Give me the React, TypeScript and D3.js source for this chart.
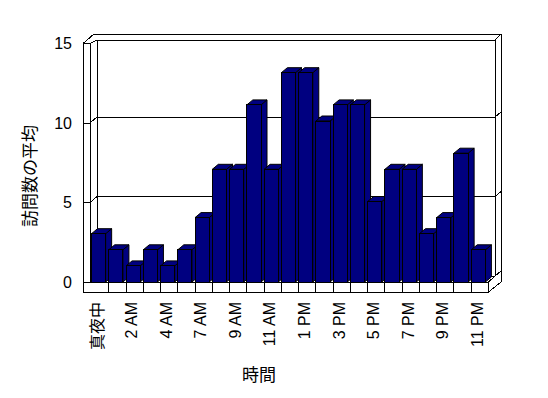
import React from "react";
import * as d3 from "d3";

// hours shown on the category axis (one hour, 5 AM, is missing in the source data)
const hours = [
  "真夜中", "1 AM", "2 AM", "3 AM", "4 AM", "5 AM", "7 AM", "8 AM", "9 AM", "10 AM",
  "11 AM", "12 PM", "1 PM", "2 PM", "3 PM", "4 PM", "5 PM", "6 PM", "7 PM", "8 PM",
  "9 PM", "10 PM", "11 PM",
];
const visits = [3, 2, 1, 2, 1, 2, 4, 7, 7, 11, 7, 13, 13, 10, 11, 11, 5, 7, 7, 3, 4, 8, 2];
const yTicks = [0, 5, 10, 15];
const gridValues = [5, 10];
const yTitle = "訪問数の平均";
const xTitle = "時間";

const W = 548;
const H = 398;
const FONT = "'Liberation Sans', 'Noto Sans CJK JP', sans-serif";
const CJK = "'Noto Sans CJK JP', sans-serif";

export default function App() {
  const x = d3.scaleBand<string>().domain(hours).range([91.5, 488.5]);
  // front face of the box (axis ticks) and the plane the bars stand in
  const yAxis = d3.scaleLinear().domain([0, 15]).range([282, 43.5]);
  const yBar = d3.scaleLinear().domain([0, 15]).range([282, 40.5]);

  const bw = x.bandwidth();
  const barW = bw * 0.82;
  const bdx = 6; // bar depth
  const bdy = -5;
  const gdx = 7; // floor / side wall depth
  const gdy = -6;

  const wallL = 83;
  const wallIn = 90;
  const backL = wallIn + gdx;
  const backR = 495;
  const outerR = 501;
  const base = yAxis(0);
  const floorBottom = base + 10;
  const floorR = x.range()[1];
  const topIn = 40;
  const topOut = 34;
  const wallTop = yAxis(15);

  const line = d3.line();
  const stroke = { stroke: "#000", strokeWidth: 1, fill: "none" };

  return (
    <div style={{ position: "absolute", left: 0, top: 0 }}>
      <svg width={W} height={H} style={{ display: "block", background: "#fff" }}>
        <g shapeRendering="crispEdges">
          {/* box outline */}
          <path
            d={
              line([
                [wallL, floorBottom],
                [wallL, wallTop],
                [wallL + 11, topOut],
                [outerR, topOut],
                [outerR, base],
                [floorR, floorBottom],
              ]) + "Z"
            }
            fill="#fff"
            stroke="#000"
          />
          <path d={line([[wallIn, base], [wallIn, wallTop], [wallL, wallTop]]) ?? ""} {...stroke} />
          <path d={line([[wallIn, wallTop], [backL, topIn], [backR, topIn], [outerR, topOut]]) ?? ""} {...stroke} />
          <path d={line([[backL, topIn], [backL, base + gdy]]) ?? ""} {...stroke} />
          <path d={line([[backR, topIn], [backR, base + gdy]]) ?? ""} {...stroke} />
          {/* back wall gridlines */}
          {[0, ...gridValues].map((v) => (
            <path
              key={v}
              d={
                line([
                  [wallL, yAxis(v)],
                  [wallIn, yAxis(v)],
                  [backL, yAxis(v) + gdy],
                  [backR, yAxis(v) + gdy],
                  [outerR, yAxis(v) + gdy - 5],
                ]) ?? ""
              }
              {...stroke}
            />
          ))}
          {/* floor front face */}
          <path d={line([[wallIn, base], [floorR, base], [floorR, floorBottom]]) ?? ""} {...stroke} />
          <path d={line([[floorR, base], [backR, base + gdy]]) ?? ""} {...stroke} />
          {hours.slice(1).map((h) => (
            <line key={h} x1={x(h)} x2={x(h)} y1={base} y2={floorBottom} stroke="#000" />
          ))}
        </g>

        {/* bars */}
        <g stroke="#000" strokeWidth={1} fill="#000080" strokeLinejoin="miter">
          {hours.map((h, i) => {
            const x0 = x(h) as number;
            const yt = yBar(visits[i]);
            return (
              <g key={h}>
                <path
                  d={
                    line([
                      [x0 + barW, base],
                      [x0 + barW, yt],
                      [x0 + barW + bdx, yt + bdy],
                      [x0 + barW + bdx, base + bdy],
                    ]) + "Z"
                  }
                />
                <path
                  d={
                    line([
                      [x0, yt],
                      [x0 + bdx, yt + bdy],
                      [x0 + barW + bdx, yt + bdy],
                      [x0 + barW, yt],
                    ]) + "Z"
                  }
                />
                <rect x={x0} y={yt} width={barW} height={base - yt} shapeRendering="crispEdges" />
              </g>
            );
          })}
        </g>

        {/* y tick labels */}
        <g fontFamily={FONT} fontSize={16} fill="#000">
          {yTicks.map((v) => (
            <text key={v} x={72} y={yAxis(v)} textAnchor="end" dominantBaseline="central">
              {v}
            </text>
          ))}
        </g>

        {/* category labels, every second hour */}
        <g fontFamily={FONT} fontSize={16} fill="#000">
          {hours.map((h, i) =>
            i % 2 === 0 ? (
              <text
                key={h}
                transform={`translate(${(x(h) as number) + bw / 2},302) rotate(-90)`}
                textAnchor="end"
                dy={2.75}
              >
                {h}
              </text>
            ) : null
          )}
        </g>

        {/* axis titles */}
        <text
          transform="translate(28,176) rotate(-90)"
          textAnchor="middle"
          dominantBaseline="central"
          fontFamily={CJK}
          fontSize={17}
        >
          {yTitle}
        </text>
        <text x={259} y={373} textAnchor="middle" dominantBaseline="central" fontFamily={CJK} fontSize={17}>
          {xTitle}
        </text>
      </svg>
    </div>
  );
}
